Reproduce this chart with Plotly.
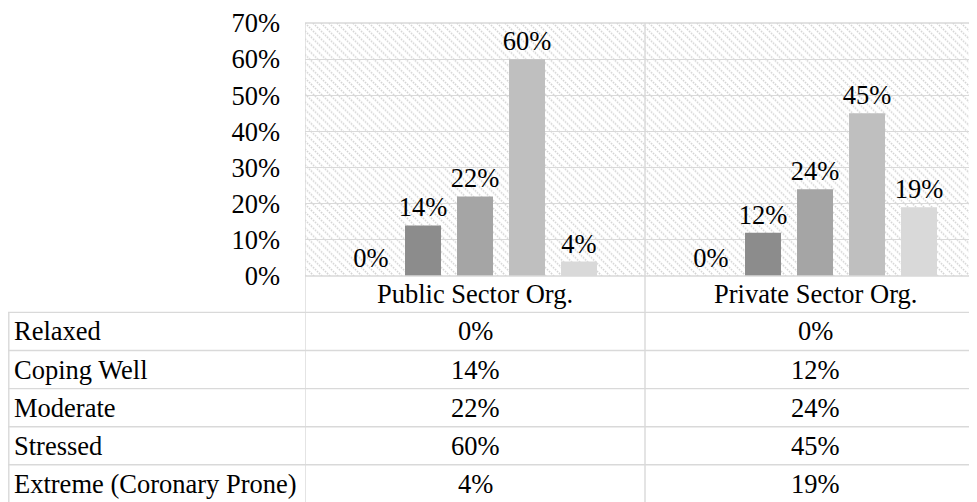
import base64
import plotly.graph_objects as go

# ---------------- data ----------------
categories = ["Public Sector Org.", "Private Sector Org."]
series_names = ["Relaxed", "Coping Well", "Moderate", "Stressed", "Extreme (Coronary Prone)"]
relaxed = [0, 0]
coping_well = [14, 12]
moderate = [22, 24]
stressed = [60, 45]
extreme = [4, 19]
series_values = [relaxed, coping_well, moderate, stressed, extreme]
y_tick_values = [0, 10, 20, 30, 40, 50, 60, 70]
y_tick_labels = ["0%", "10%", "20%", "30%", "40%", "50%", "60%", "70%"]

# ---------------- styles / layout ----------------
colors = ["#7a7a7a", "#8c8c8c", "#a5a5a5", "#bfbfbf", "#d9d9d9"]
OFF = 8                      # browser body margin
W, H = 977 - OFF, 502 - OFF  # figure size (page offset by body margin)
L = 305 - OFF                # plot left (figure px)
T = 19 - OFF                 # plot top
PLOT_BOTTOM = 276 - OFF      # plot bottom
CAT_W = 340
HEADER_H = 37
ROW_H = 38.7
TABLE_LEFT = 8 - OFF
plot_w = W - L
plot_h = PLOT_BOTTOM - T
B = H - PLOT_BOTTOM
FONT = "Liberation Serif, Times New Roman, serif"
FS = 26.5
LINE = "#d9d9d9"
LW = 1.4


def py(px):
    return (PLOT_BOTTOM - px) / plot_h


def pxx(px):
    return (px - L) / plot_w


fig = go.Figure()
for name, vals, c in zip(series_names, series_values, colors):
    fig.add_bar(
        x=categories, y=vals, name=name,
        marker=dict(color=c, line=dict(width=0)),
        text=[f"{v}%" for v in vals], textposition="outside",
        textfont=dict(family=FONT, size=FS, color="black"),
        constraintext="none", cliponaxis=False, showlegend=False,
    )

# hatch background texture
svg = (
    f'<svg xmlns="http://www.w3.org/2000/svg" width="{plot_w}" height="{plot_h}" '
    f'viewBox="0 0 {plot_w} {plot_h}" preserveAspectRatio="none">'
    '<defs><pattern id="p" patternUnits="userSpaceOnUse" width="8" height="8">'
    '<path d="M-2,6 l4,4 M0,0 l8,8 M6,-2 l4,4" stroke="#d3d3d3" stroke-width="1.6" '
    'stroke-dasharray="1.6,1.2"/>'
    '</pattern></defs>'
    f'<rect width="{plot_w}" height="{plot_h}" fill="white"/>'
    f'<rect width="{plot_w}" height="{plot_h}" fill="url(#p)"/></svg>'
)
src = "data:image/svg+xml;base64," + base64.b64encode(svg.encode()).decode()

shapes = []
line = dict(color=LINE, width=LW)
# plot frame top/bottom
shapes.append(dict(type="line", xref="paper", yref="paper", x0=0, x1=1.01, y0=1, y1=1, line=line))
shapes.append(dict(type="line", xref="paper", yref="paper", x0=0, x1=1.01, y0=0, y1=0, line=line))
# vertical category separators (through chart and table)
for xv in [-0.5, 0.5]:
    shapes.append(dict(type="line", xref="x", yref="paper", x0=xv, x1=xv,
                       y0=1, y1=py(H + 10), line=line))
# table horizontal rules
n_rows = len(series_names)
for i in range(n_rows + 1):
    yy = PLOT_BOTTOM + HEADER_H + i * ROW_H
    shapes.append(dict(type="line", xref="paper", yref="paper", x0=pxx(TABLE_LEFT), x1=1.01,
                       y0=py(yy), y1=py(yy), line=line))
# table left border
shapes.append(dict(type="line", xref="paper", yref="paper", x0=pxx(TABLE_LEFT + 0.8),
                   x1=pxx(TABLE_LEFT + 0.8),
                   y0=py(PLOT_BOTTOM + HEADER_H), y1=py(H + 10), line=line))

annotations = []
tf = dict(family=FONT, size=FS, color="black")
for cat in categories:
    annotations.append(dict(x=cat, xref="x", y=py(PLOT_BOTTOM + HEADER_H / 2), yref="paper",
                            text=cat, showarrow=False, font=tf, xanchor="center", yanchor="middle"))
for i, (name, vals) in enumerate(zip(series_names, series_values)):
    yc = py(PLOT_BOTTOM + HEADER_H + (i + 0.5) * ROW_H)
    annotations.append(dict(x=pxx(TABLE_LEFT + 4), xref="paper", y=yc, yref="paper", text=name,
                            showarrow=False, font=tf, xanchor="left", yanchor="middle"))
    for cat, v in zip(categories, vals):
        annotations.append(dict(x=cat, xref="x", y=yc, yref="paper", text=f"{v}%",
                                showarrow=False, font=tf, xanchor="center", yanchor="middle"))

fig.update_layout(
    width=W, height=H,
    margin=dict(l=L, r=0, t=T, b=B, pad=0),
    paper_bgcolor="white", plot_bgcolor="rgba(0,0,0,0)",
    barmode="group", bargap=0.2353, bargroupgap=0.3077,
    font=dict(family=FONT, size=FS, color="black"),
    xaxis=dict(type="category", range=[-0.5, -0.5 + plot_w / CAT_W], showticklabels=False,
               showgrid=False, zeroline=False, showline=False, ticks=""),
    yaxis=dict(range=[0, 70], tickmode="array", tickvals=y_tick_values, ticktext=y_tick_labels,
               showgrid=True, gridcolor=LINE, gridwidth=LW, zeroline=False, showline=False,
               ticks="", ticklabelstandoff=24, ticklabeloverflow="allow", tickfont=tf),
    images=[dict(source=src, xref="paper", yref="paper", x=0, y=1, sizex=1, sizey=1,
                 xanchor="left", yanchor="top", sizing="stretch", layer="below")],
    shapes=shapes,
    annotations=annotations,
    showlegend=False,
)

fig.write_html("out.html")
